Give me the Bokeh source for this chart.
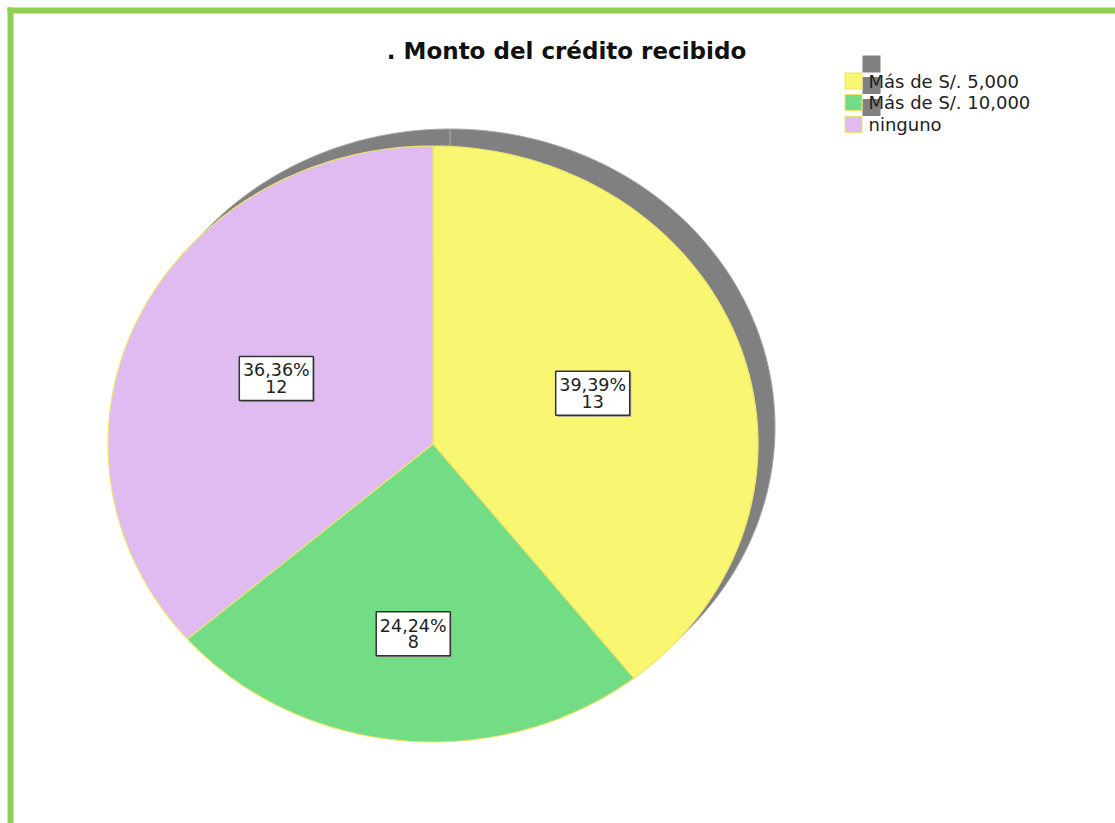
import numpy as np
from bokeh.plotting import figure
from bokeh.models import Range1d
from bokeh.core.properties import value
from bokeh.embed import file_html
from bokeh.resources import INLINE

# ---- data ----
title = ". Monto del crédito recibido"
categories = ["Más de S/. 5,000", "Más de S/. 10,000", "ninguno"]
counts = [13, 8, 12]
colors = ["#f9f772", "#72dd84", "#dfbbf2"]

# ---- layout / style constants ----
W, H = 1115, 823
CX, CY = 432.5, 443.5     # pie centre (page pixels)
RX, RY = 325, 298         # pie radii
SHADOW_DX, SHADOW_DY = 17, -17
label_frac = [0.52, 0.64, 0.53]
FONT = "DejaVu Sans"

p = figure(width=W, height=H, x_range=Range1d(0, W), y_range=Range1d(H, 0),
           x_axis_type=None, y_axis_type=None, output_backend="svg",
           toolbar_location=None, min_border=0)
p.outline_line_color = None
p.grid.visible = False
p.background_fill_color = "white"
p.border_fill_color = "white"

# green frame (top and left edges visible)
p.quad(left=[7, 7], right=[13, W], top=[7, 7], bottom=[H, 13],
       fill_color="#8fd14f", line_color=None)

# ---- pie geometry from values ----
vals = np.array(counts, dtype=float)
frac = vals / vals.sum()
ends = np.cumsum(frac)
starts = ends - frac


def wedge(s, e, cx, cy):
    th = np.linspace(s, e, max(3, int(400 * (e - s)))) * 2 * np.pi
    xs = np.concatenate([[cx], cx + RX * np.sin(th), [cx]])
    ys = np.concatenate([[cy], cy - RY * np.cos(th), [cy]])
    return list(xs), list(ys)


sh_x, sh_y, pie_x, pie_y = [], [], [], []
for s, e in zip(starts, ends):
    xs, ys = wedge(s, e, CX + SHADOW_DX, CY + SHADOW_DY)
    sh_x.append(xs); sh_y.append(ys)
    xs, ys = wedge(s, e, CX, CY)
    pie_x.append(xs); pie_y.append(ys)

p.patches(sh_x, sh_y, fill_color="#808080", line_color="#a6a6a6", line_width=1)
p.patches(pie_x, pie_y, fill_color=colors, line_color="#ece46e", line_width=1.2)

# ---- labels ----
mid = (starts + ends) / 2 * 2 * np.pi
lx = CX + RX * np.sin(mid) * np.array(label_frac)
ly = CY - RY * np.cos(mid) * np.array(label_frac)
pct = [f"{v*100:.2f}%".replace(".", ",") for v in frac]
cnt = [str(c) for c in counts]
p.rect(x=list(lx + 1.5), y=list(ly + 1.5), width=74, height=44, fill_color="#9a9a9a",
       line_color=None)
p.rect(x=list(lx), y=list(ly), width=74, height=44, fill_color="white",
       line_color="#333333", line_width=1.5)
p.text(x=list(lx), y=list(ly - 8), text=pct, text_align="center", text_baseline="middle",
       text_font=value(FONT), text_font_size="17.5px", text_color="#222222")
p.text(x=list(lx), y=list(ly + 8), text=cnt, text_align="center", text_baseline="middle",
       text_font=value(FONT), text_font_size="17.5px", text_color="#222222")

# ---- title ----
p.text(x=[566], y=[50], text=[title], text_align="center", text_baseline="middle",
       text_font=value(FONT), text_font_size="23px", text_font_style="bold",
       text_color="#111111")

# ---- legend ----
leg_x = 853
leg_y = np.array([80.5, 102, 124])
p.rect(x=[leg_x + 18] * 3, y=list(leg_y - 17), width=18, height=17,
       fill_color="#808080", line_color=None)
p.rect(x=[leg_x] * 3, y=list(leg_y), width=17, height=16, fill_color=colors,
       line_color="#ece46e", line_width=1)
p.text(x=[868] * 3, y=list(leg_y), text=categories, text_align="left",
       text_baseline="middle", text_font=value(FONT), text_font_size="18px",
       text_color="#222222")

open("out.html", "w").write(file_html(p, INLINE))
